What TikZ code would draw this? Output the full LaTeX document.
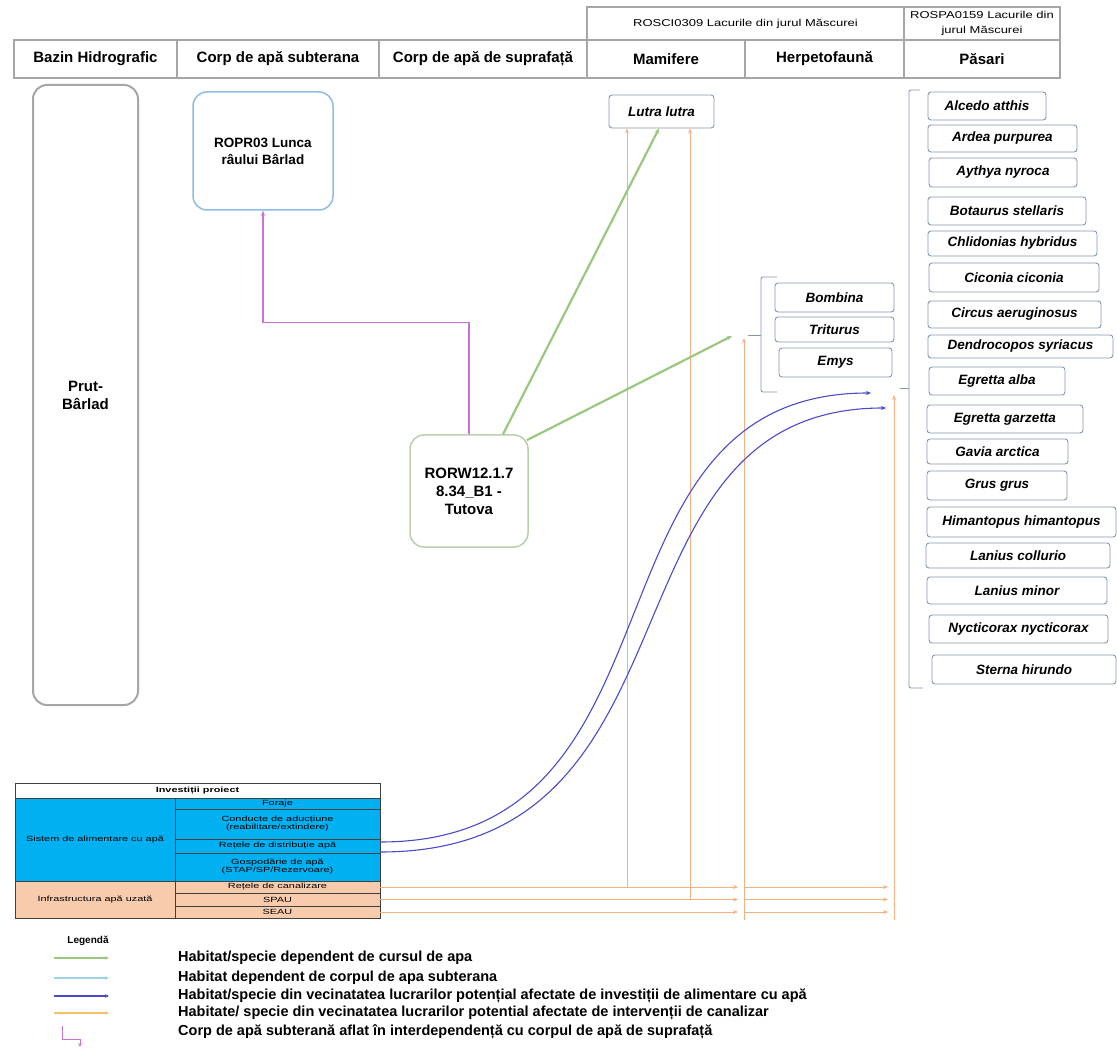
\documentclass[tikz,border=0pt]{standalone}
\usepackage{fontspec}
\setmainfont{Liberation Sans}
\newfontfamily\tblfont[FakeStretch=1.45]{Liberation Sans}
\newfontfamily\hdfont[FakeStretch=1.3]{Liberation Sans}
\usetikzlibrary{arrows.meta}

\definecolor{hdgray}{HTML}{A6A6A6}
\definecolor{spblue}{HTML}{8497B0}
\definecolor{rivgreen}{HTML}{9BC87F}
\definecolor{gwblue}{HTML}{9DD3E3}
\definecolor{aducol}{HTML}{4B4BC8}
\definecolor{canal}{HTML}{F4B183}
\definecolor{canyel}{HTML}{F2C36B}
\definecolor{mag}{HTML}{CC6FD6}
\definecolor{tblue}{HTML}{00B0F0}
\definecolor{torange}{HTML}{F8CBAD}
\definecolor{ropr}{HTML}{8FBCE6}
\definecolor{rorw}{HTML}{BCCFAA}

\begin{document}
\begin{tikzpicture}[x=1pt,y=-1pt,>={Stealth[length=5pt,width=4pt]},
  hd/.style={draw=hdgray,line width=1.2pt,inner sep=0pt,font=\bfseries\fontsize{15}{17}\selectfont},
  hdtop/.style={hd,align=center,font=\hdfont\fontsize{10}{15}\selectfont},
  spbox/.style={draw=spblue,line width=.9pt,rounded corners=3pt,inner sep=0pt,fill=white,font=\bfseries\itshape\fontsize{13.5}{15}\selectfont},
  bigbox/.style={line width=1.5pt,rounded corners=14pt,inner sep=0pt,align=center,font=\bfseries\fontsize{14}{17}\selectfont},
  cell/.style={draw=black!75,line width=.5pt,inner sep=0pt,align=center,font=\tblfont\fontsize{7.5}{8}\selectfont},
  bracket/.style={draw=spblue,line width=.9pt,rounded corners=2pt},
  grl/.style={draw=rivgreen,line width=2.2pt},
  orl/.style={draw=canal,line width=1pt},
  pul/.style={draw=aducol,line width=1.1pt},
  mgl/.style={draw=mag,line width=1.3pt},
  legtxt/.style={anchor=west,inner sep=0pt,font=\bfseries\fontsize{14.5}{16}\selectfont}]

  \fill[white] (0,0) rectangle (1117,1048);
  \useasboundingbox (0,0) rectangle (1117,1048);

  % header
  \foreach \xl/\xr/\nm/\txt in {14/177/bazin/Bazin Hidrografic,177/379/csub/Corp de apă subterana,
      379/587/csup/Corp de apă de suprafață,587/745/mam/Mamifere,745/904/herp/Herpetofaună,904/1060/pas/Păsari}{
    \pgfmathsetmacro\cw{\xr-\xl}
    \node[hd,minimum width=\cw pt,minimum height=38pt] (\nm) at ({(\xl+\xr)/2},59) {\txt};
  }
  \node[hdtop,minimum width=317pt,minimum height=33pt] (rosci) at (745.5,23.5) {ROSCI0309 Lacurile din jurul Măscurei};
  \node[hdtop,minimum width=156pt,minimum height=33pt] (rospa) at (982,23.5) {ROSPA0159 Lacurile din\\jurul Măscurei};

  % water bodies
  \node[bigbox,draw=hdgray,line width=2pt,minimum width=105pt,minimum height=620pt,font=\bfseries\fontsize{15}{18}\selectfont] (prut) at (85.5,395) {Prut-\\Bârlad};
  \node[bigbox,draw=ropr,minimum width=140pt,minimum height=118pt,font=\bfseries\fontsize{13.5}{17}\selectfont] (ropr03) at (263,151) {ROPR03 Lunca\\râului Bârlad};
  \node[bigbox,draw=rorw,minimum width=118pt,minimum height=112pt,font=\bfseries\fontsize{15}{18}\selectfont] (rorw) at (469,491) {RORW12.1.7\\8.34\_B1 -\\Tutova};

  % species
  \node[spbox,minimum width=105pt,minimum height=33pt] (lutra) at (661.5,111.5) {Lutra lutra};
  \node[spbox,minimum width=119pt,minimum height=29pt] (bombina) at (834.5,297.5) {Bombina};
  \node[spbox,minimum width=119pt,minimum height=25pt] (triturus) at (834.5,329.5) {Triturus};
  \node[spbox,minimum width=113pt,minimum height=29pt] (emys) at (835.5,362.5) {Emys};
  \draw[bracket] (777,277) -- (761,277) -- (761,392) -- (777,392);
  \draw[bracket] (761,335) -- (748,335);

  \foreach \n/\xl/\yt/\xr/\yb/\txt in {
      1/928/92/1046/120/Alcedo atthis,
      2/928/125/1077/152/Ardea purpurea,
      3/929/158/1077/187/Aythya nyroca,
      4/928/197/1086/225/Botaurus stellaris,
      5/928/231/1097/256/Chlidonias hybridus,
      6/929/263/1099/292/Ciconia ciconia,
      7/928/301/1101/328/Circus aeruginosus,
      8/928/335/1113/358/Dendrocopos syriacus,
      9/929/367/1065/395/Egretta alba,
      10/927/405/1083/433/Egretta garzetta,
      11/927/439/1068/464/Gavia arctica,
      12/927/471/1067/500/Grus grus,
      13/927/507/1116/537/Himantopus himantopus,
      14/926/543/1110/568/Lanius collurio,
      15/927/577/1107/604/Lanius minor,
      16/929/615/1108/643/Nycticorax nycticorax,
      17/932/655/1116/684/Sterna hirundo}{
    \pgfmathsetmacro\bw{\xr-\xl}
    \pgfmathsetmacro\bh{\yb-\yt}
    \node[spbox,minimum width=\bw pt,minimum height=\bh pt] (bird\n) at ({(\xl+\xr)/2},{(\yt+\yb)/2}) {\txt};
  }
  \draw[bracket] (920,90) -- (909,90) -- (909,688) -- (923,688);
  \draw[bracket] (909,388) -- (900,388);

  % project table
  \node[cell,fill=white,minimum width=365pt,minimum height=15pt,font=\tblfont\bfseries\fontsize{7.5}{8}\selectfont] (tit) at (197.5,790.5) {Investiții proiect};
  \node[cell,fill=tblue,minimum width=160pt,minimum height=83pt] (sal) at (95,839.5) {Sistem de alimentare cu apă};
  \node[cell,fill=tblue,minimum width=205pt,minimum height=11pt] (rfor) at (277.5,803.5) {Foraje};
  \node[cell,fill=tblue,minimum width=205pt,minimum height=30pt] (rcond) at (277.5,824) {Conducte de aducțiune\\(reabilitare/extindere)};
  \node[cell,fill=tblue,minimum width=205pt,minimum height=14pt] (rdist) at (277.5,846) {Rețele de distribuție apă};
  \node[cell,fill=tblue,minimum width=205pt,minimum height=28pt] (rgosp) at (277.5,867) {Gospodărie de apă\\(STAP/SP/Rezervoare)};
  \node[cell,fill=torange,minimum width=160pt,minimum height=37pt] (iau) at (95,899.5) {Infrastructura apă uzată};
  \node[cell,fill=torange,minimum width=205pt,minimum height=12pt] (rcan) at (277.5,887) {Rețele de canalizare};
  \node[cell,fill=torange,minimum width=205pt,minimum height=13pt] (rspau) at (277.5,899.5) {SPAU};
  \node[cell,fill=torange,minimum width=205pt,minimum height=12pt] (rseau) at (277.5,912) {SEAU};

  % connectors
  \coordinate (hbus) at (744,338);
  \coordinate (bbus) at (894,395);
  \coordinate (hbot) at (744,920);
  \coordinate (bbot) at (894,920);
  \coordinate (herpin) at (732,336);
  \coordinate (pa1) at (871,393);
  \coordinate (pa2) at (886,408);
  \coordinate (lutl) at ([xshift=-34.5pt]lutra.south);
  \coordinate (lutr) at ([xshift=28.5pt]lutra.south);

  \draw[orl,->] (hbot) -- (hbus);
  \draw[orl,->] (bbot) -- (bbus);
  \foreach \r in {rcan,rspau,rseau}{
    \draw[orl,->] (\r.east) -- ([xshift=-6pt]\r.east -| hbus);
    \draw[orl,->] (\r.east -| hbus) -- ([xshift=-6pt]\r.east -| bbus);
  }
  \draw[orl,->] (rcan.east -| lutl) -- (lutl);
  \draw[orl,->] (rspau.east -| lutr) -- (lutr);

  \draw[pul,->] ([yshift=4pt]rdist.east) .. controls (700,842) and (570,393) .. (pa1);
  \draw[pul,->] ([yshift=-6pt]rdist.east) .. controls (715,852) and (590,408) .. (pa2);

  \draw[grl,->] ([xshift=34pt]rorw.north) -- ([xshift=-2.5pt]lutra.south);
  \draw[grl,->] ([xshift=-2pt,yshift=-6pt]rorw.north east) -- (herpin);

  \draw[mgl,->] (rorw.north) -- ++(0,-112) -| (ropr03.south);

  % legend
  \node[font=\bfseries\fontsize{10}{12}\selectfont] (leg) at (88,941) {Legendă};
  \foreach \c/\y/\txt [count=\i] in {rivgreen/958/{Habitat/specie dependent de cursul de apa},
      gwblue/978/{Habitat dependent de corpul de apa subterana},
      aducol/996/{Habitat/specie din vecinatatea lucrarilor potențial afectate de investiții de alimentare cu apă},
      canyel/1013/{Habitate/ specie din vecinatatea lucrarilor potential afectate de intervenții de canalizar}}{
    \draw[draw=\c,line width=1.2pt,-{Stealth[length=4pt,width=3.5pt]}] (54,\y) -- (109,\y);
    \node[legtxt] (lt\i) at (178,\y) {\txt};
  }
  \coordinate (mgs) at (62,1026);
  \draw[mgl,line width=1pt,-{Stealth[length=4pt,width=3.5pt]}] (mgs) |- (80,1039) -- (80,1047);
  \node[legtxt] (lt5) at (178,1032) {Corp de apă subterană aflat în interdependență cu corpul de apă de suprafață};
\end{tikzpicture}
\end{document}
